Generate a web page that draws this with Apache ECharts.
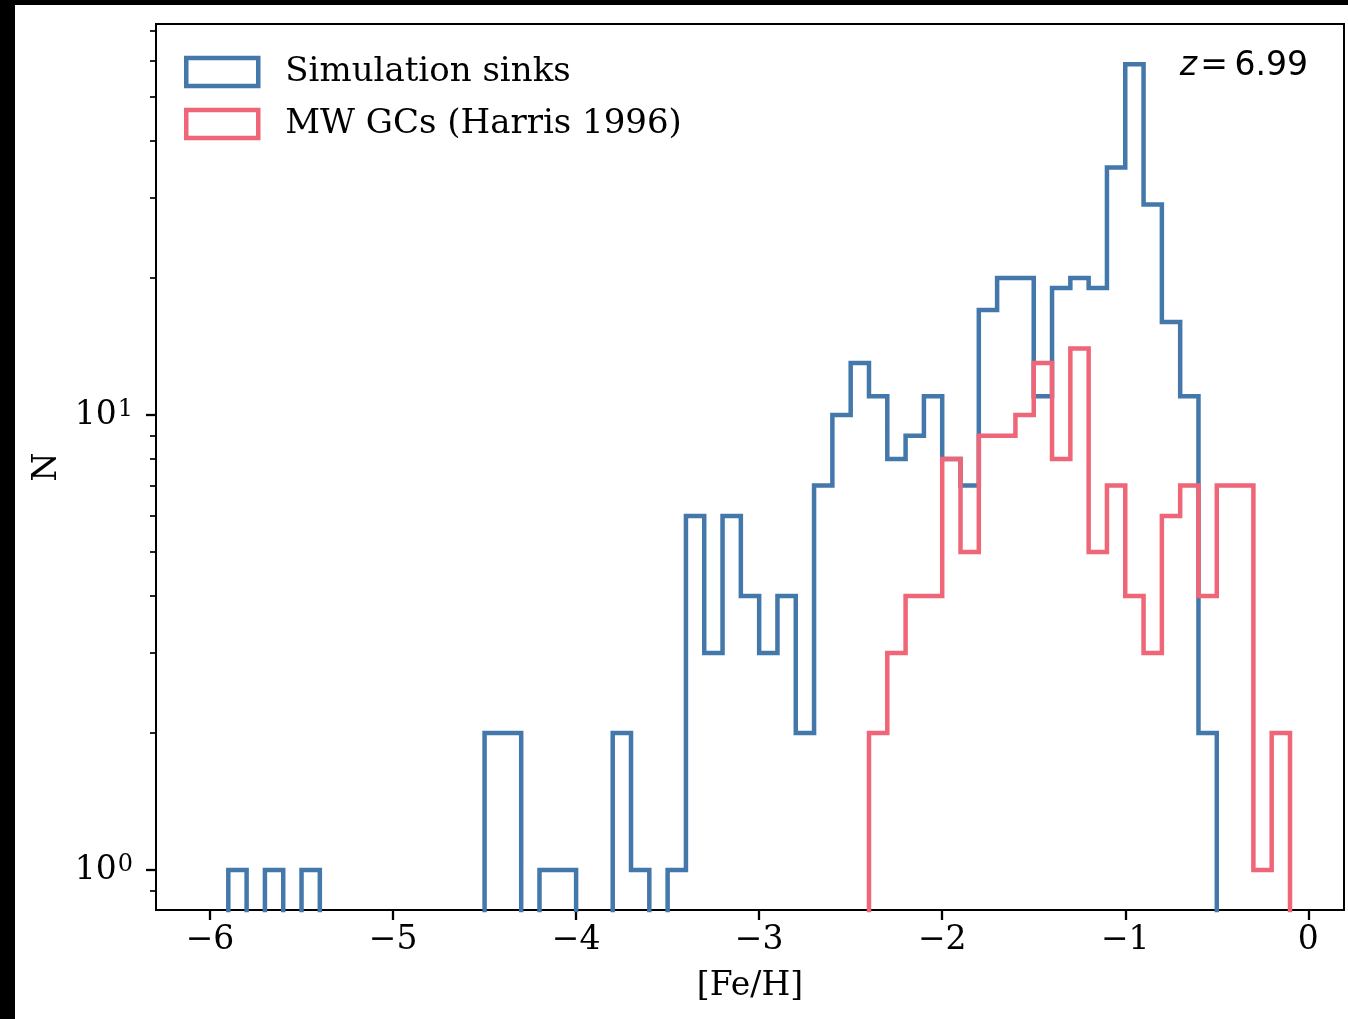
<!DOCTYPE html>
<html>
<head>
<meta charset="utf-8">
<script src="https://cdn.jsdelivr.net/npm/echarts@6/dist/echarts.min.js"></script>
<style>
  html, body { margin: 0; padding: 0; background: #000; width: 1348px; height: 1019px; overflow: hidden; }
  #chart { position: absolute; left: 15px; top: 5px; width: 1333px; height: 1014px; background: #fff; }
</style>
</head>
<body>
<div id="chart"></div>
<script>
// ---- data ----
const binWidth = 0.1;
const simStart = -5.9;   // first bin lower edge, Simulation sinks
const simCounts = [1,0,1,0,1,0,0,0,0,0,0,0,0,0,2,2,0,1,1,0,0,2,1,0,1,6,3,6,4,3,4,2,7,10,13,11,8,9,11,8,7,17,20,20,11,19,20,19,35,59,29,16,11,2];
const mwStart = -2.4;    // first bin lower edge, MW GCs
const mwCounts = [2,3,4,4,8,5,9,9,10,13,8,14,5,7,4,3,6,7,4,7,7,1,2];
const xTicks = [-6,-5,-4,-3,-2,-1,0];
const yMajorTicks = [1, 10];
const yMinorTicks = [0.9,2,3,4,5,6,7,8,9,20,30,40,50,60,70];
const seriesNames = ['Simulation sinks', 'MW GCs (Harris 1996)'];

const FLOOR = 0.3; // below axis minimum -> clipped, like log of zero
function stepPoints(start, counts) {
  const r = v => Math.round(v * 10) / 10;
  const pts = [[r(start), FLOOR]];
  counts.forEach((c, i) => {
    const l = r(start + i * binWidth), rr = r(start + (i + 1) * binWidth);
    const v = c > 0 ? c : FLOOR;
    pts.push([l, v], [rr, v]);
  });
  pts.push([r(start + counts.length * binWidth), FLOOR]);
  return pts;
}

const BLUE = '#4477AA', RED = '#EE6677';
const FONT = 'DejaVu Serif';
const FS = 33;
const YMIN = 0.817, YMAX = 72.3;

const chart = echarts.init(document.getElementById('chart'), null, {renderer: 'canvas'});
chart.setOption({
  animation: false,
  backgroundColor: '#fff',
  grid: { left: 141, right: 4, top: 19, bottom: 109, show: true, borderColor: '#000', borderWidth: 2, containLabel: false },
  legend: {
    orient: 'vertical', left: 169, top: 50, itemWidth: 72, itemHeight: 28, itemGap: 18,
    selectedMode: false, padding: 0,
    textStyle: { fontFamily: FONT, fontSize: 34, color: '#000', padding: [0,0,0,22] },
    data: [
      { name: seriesNames[0], icon: 'rect', itemStyle: { color: 'transparent', borderColor: BLUE, borderWidth: 4.5 } },
      { name: seriesNames[1], icon: 'rect', itemStyle: { color: 'transparent', borderColor: RED, borderWidth: 4.5 } }
    ]
  },
  xAxis: {
    type: 'value', min: -6.295, max: 0.195,
    name: '[Fe/H]', nameLocation: 'middle', nameGap: 60,
    nameTextStyle: { fontFamily: FONT, fontSize: FS, color: '#000' },
    axisLine: { show: false },
    splitLine: { show: false },
    axisTick: { show: true, length: 10, lineStyle: { color: '#000', width: 2.3 }, customValues: xTicks },
    axisLabel: { fontFamily: FONT, fontSize: FS, color: '#000', margin: 14, customValues: xTicks,
      formatter: v => String(v).replace('-', '\u2212') }
  },
  yAxis: [
    {
      type: 'log', logBase: 10, min: YMIN, max: YMAX, position: 'left',
      name: 'N', nameLocation: 'middle', nameGap: 77, nameRotate: 90,
      nameTextStyle: { fontFamily: FONT, fontSize: FS, color: '#000' },
      axisLine: { show: false },
      splitLine: { show: false },
      axisTick: { show: false },
      axisLabel: { color: '#000', margin: 23, customValues: yMajorTicks,
        formatter: v => '{b|10}{s|' + Math.round(Math.log10(v)) + '}',
        rich: {
          b: { fontFamily: FONT, fontSize: FS, color: '#000' },
          s: { fontFamily: FONT, fontSize: 24, color: '#000', verticalAlign: 'top', padding: [0,0,10,1] }
        } }
    },
    {
      type: 'log', logBase: 10, min: YMIN, max: YMAX, position: 'left', offset: 0,
      axisLine: { show: false },
      splitLine: { show: false },
      axisTick: { show: true, length: 6, lineStyle: { color: '#000', width: 1.7 }, customValues: yMinorTicks },
      axisLabel: { show: false }
    },
    {
      type: 'log', logBase: 10, min: YMIN, max: YMAX, position: 'left', offset: 0,
      axisLine: { show: false },
      splitLine: { show: false },
      axisTick: { show: true, length: 10, lineStyle: { color: '#000', width: 2.3 }, customValues: yMajorTicks },
      axisLabel: { show: false }
    }
  ],
  graphic: [{
    type: 'text', right: 40, top: 45, z: 100,
    style: {
      text: '{i|z}{n|\u200A=\u20096.99}',
      rich: {
        i: { fontFamily: 'DejaVu Sans', fontStyle: 'italic', fontSize: FS, fill: '#000' },
        n: { fontFamily: 'DejaVu Sans', fontSize: FS, fill: '#000' }
      }
    }
  }],
  series: [
    { name: seriesNames[0], type: 'line', symbol: 'none', clip: true, yAxisIndex: 0,
      lineStyle: { color: BLUE, width: 4.5, join: 'miter' }, itemStyle: { color: BLUE },
      data: stepPoints(simStart, simCounts), z: 2 },
    { name: seriesNames[1], type: 'line', symbol: 'none', clip: true, yAxisIndex: 0,
      lineStyle: { color: RED, width: 4.5, join: 'miter' }, itemStyle: { color: RED },
      data: stepPoints(mwStart, mwCounts), z: 3 }
  ]
});
</script>
</body>
</html>
